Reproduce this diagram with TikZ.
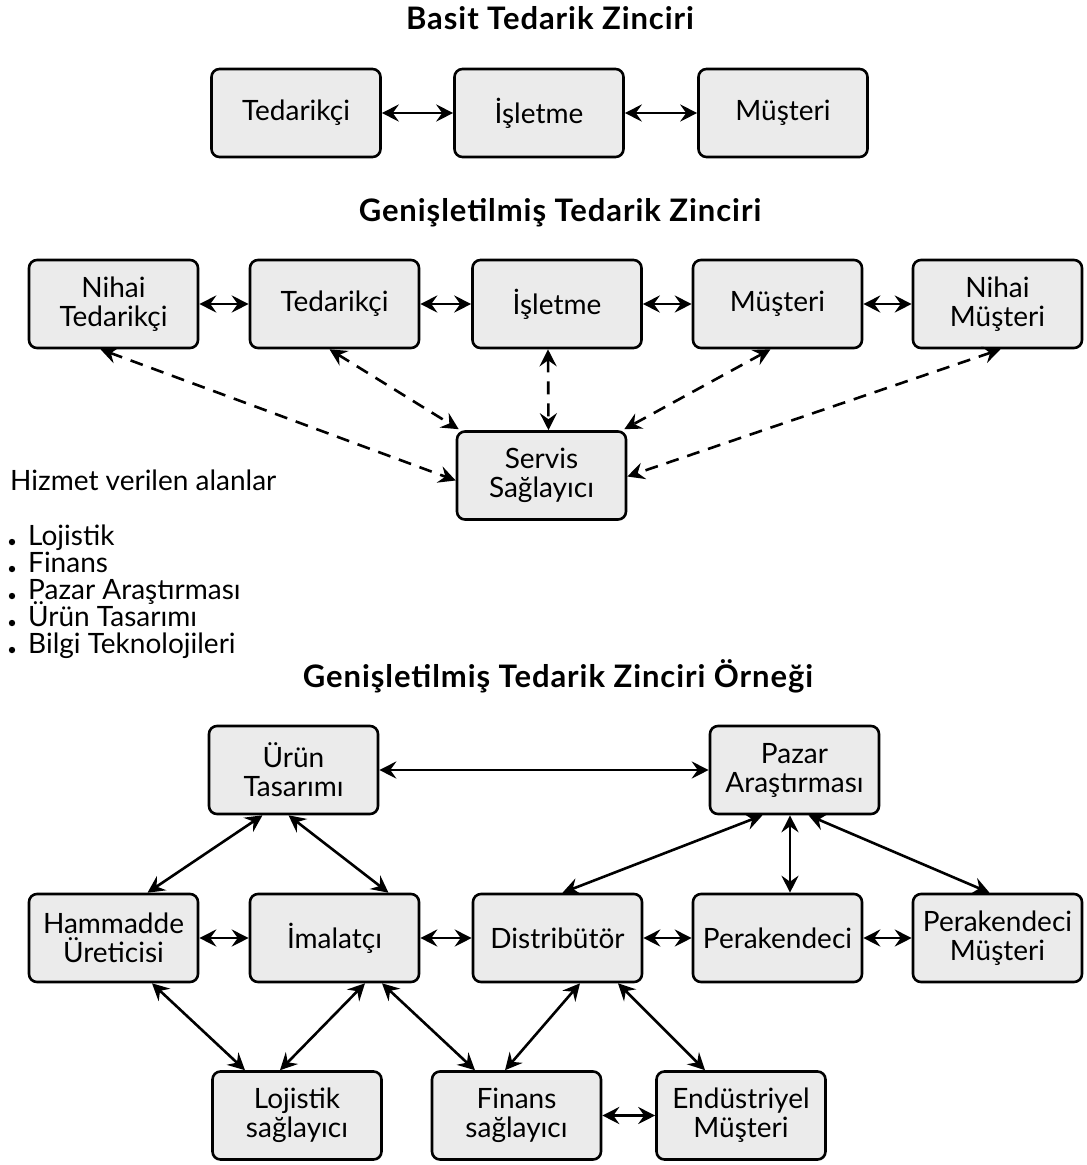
\documentclass[tikz,border=0pt]{standalone}
\usepackage{fontspec}
\setmainfont{Lato}
\usetikzlibrary{arrows.meta,calc}
\definecolor{boxgray}{HTML}{EBEBEB}
\begin{document}
\begin{tikzpicture}[x=1pt,y=-1pt,
  box/.style={draw=black,line width=2.6pt,rounded corners=8pt,fill=boxgray,
    minimum width=169pt,minimum height=88pt,align=center,inner sep=2pt,
    font=\fontsize{28}{29}\selectfont},
  title/.style={font=\fontsize{31}{34}\selectfont\bfseries\addfontfeature{LetterSpace=3}},
  link/.style={line width=2.6pt,{Stealth[length=17pt,width=17pt,inset=6pt]}-{Stealth[length=17pt,width=17pt,inset=6pt]}},
  dlink/.style={link,dash pattern=on 13pt off 9pt},
  plain/.style={font=\fontsize{28}{30}\selectfont,inner sep=0pt}]
\useasboundingbox (0,0) rectangle (1087,1165);

% --- simple chain ---
\node[title] (t1) at (550,18) {Basit Tedarik Zinciri};
\node[box] (s1) at (296,113) {Tedarikçi};
\node[box] (s2) at (539,113) {İşletme};
\node[box] (s3) at (783,113) {Müşteri};
\draw[link] (s1) -- (s2);
\draw[link] (s2) -- (s3);

% --- extended chain ---
\node[title] (t2) at (560,213) {Genişletilmiş Tedarik Zinciri};
\node[box] (e1) at (113.5,304) {Nihai\\Tedarikçi};
\node[box] (e2) at (334.5,304) {Tedarikçi};
\node[box] (e3) at (557,304) {İşletme};
\node[box] (e4) at (777.5,304) {Müşteri};
\node[box] (e5) at (997.5,304) {Nihai\\Müşteri};
\node[box] (sp) at (541.5,475.5) {Servis\\Sağlayıcı};
\draw[link] (e1) -- (e2);
\draw[link] (e2) -- (e3);
\draw[link] (e3) -- (e4);
\draw[link] (e4) -- (e5);
\draw[dlink] ([xshift=-13pt]e1.south) -- ([yshift=-5pt]sp.west);
\draw[dlink] ([xshift=-5pt]e2.south) -- ([xshift=3pt,yshift=1pt]sp.north west);
\draw[dlink] ([xshift=-9pt]e3.south) -- ([xshift=7pt]sp.north);
\draw[dlink] ([xshift=-7pt]e4.south) -- ([xshift=-3pt,yshift=1pt]sp.north east);
\draw[dlink] ([xshift=3pt]e5.south) -- ([yshift=-1pt]sp.east);

% --- served areas ---
\node[plain,anchor=base west] (h0) at (10,490) {Hizmet verilen alanlar};
\foreach \i/\txt [count=\k] in {545/Lojistik,572/Finans,599/Pazar Araştırması,626/Ürün Tasarımı,653/Bilgi Teknolojileri}{
  \node[plain,anchor=base west] (li\k) at (28,\i) {\txt};
  \fill (12,\i-3) circle (3.2pt);
}

% --- example network ---
\node[title] (t3) at (558,676) {Genişletilmiş Tedarik Zinciri Örneği};
\node[box] (ut) at (293.5,770) {Ürün\\Tasarımı};
\node[box] (pa) at (794.5,770) {Pazar\\Araştırması};
\node[box] (hu) at (113.5,938) {Hammadde\\Üreticisi};
\node[box] (im) at (334.5,938) {İmalatçı};
\node[box] (di) at (557.5,938) {Distribütör};
\node[box] (pe) at (777.5,938) {Perakendeci};
\node[box] (pm) at (997.5,938) {Perakendeci\\Müşteri};
\node[box] (ls) at (297,1115.5) {Lojistik\\sağlayıcı};
\node[box] (fs) at (516.5,1115.5) {Finans\\sağlayıcı};
\node[box] (em) at (741,1115.5) {Endüstriyel\\Müşteri};

\draw[link] (ut) -- (pa);
\draw[link] (hu) -- (im);
\draw[link] (im) -- (di);
\draw[link] (di) -- (pe);
\draw[link] (pe) -- (pm);
\draw[link] (fs) -- (em);

\draw[link] ([xshift=-31pt]ut.south) -- ([xshift=34pt]hu.north);
\draw[link] ([xshift=-5pt]ut.south) -- ([xshift=54pt]im.north);
\draw[link] ([xshift=-32pt]pa.south) -- ([xshift=5pt]di.north);
\draw[link] ([xshift=-4.5pt]pa.south) -- ([xshift=12.5pt]pe.north);
\draw[link] ([xshift=14pt]pa.south) -- ([xshift=-8pt]pm.north);

\draw[link] ([xshift=38.5pt]hu.south) -- ([xshift=-52pt]ls.north);
\draw[link] ([xshift=30.5pt]im.south) -- ([xshift=-17pt]ls.north);
\draw[link] ([xshift=47.5pt]im.south) -- ([xshift=-41.5pt]fs.north);
\draw[link] ([xshift=22.5pt]di.south) -- ([xshift=-11.5pt]fs.north);
\draw[link] ([xshift=60.5pt]di.south) -- ([xshift=-36pt]em.north);
\end{tikzpicture}
\end{document}
